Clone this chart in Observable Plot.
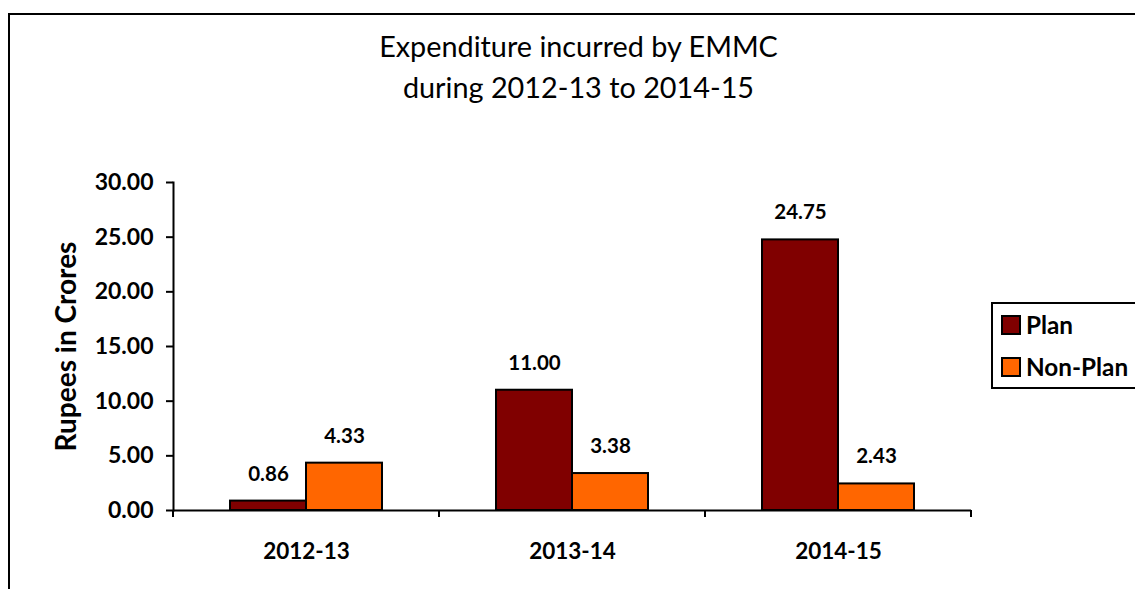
<!DOCTYPE html>
<html><head><meta charset="utf-8">
<script src="https://cdn.jsdelivr.net/npm/d3@7"></script>
<script src="https://cdn.jsdelivr.net/npm/@observablehq/plot@0.6"></script>
<style>
html,body{margin:0;padding:0;background:#fff;}
body{width:1135px;height:589px;overflow:hidden;position:relative;font-family:Lato,"Noto Sans",sans-serif;color:#000;}
#frame{position:absolute;left:8px;top:13px;width:1300px;height:800px;border-left:2px solid #000;border-top:2px solid #000;}
#title{position:absolute;left:0;width:1157px;top:26px;text-align:center;font-size:28.8px;line-height:41px;}
#chart{position:absolute;left:0;top:150px;}
#legend{position:absolute;left:991px;top:302px;width:300px;height:83px;border:2px solid #000;background:#fff;}
.item{position:absolute;left:0;height:20px;font-weight:bold;font-size:24.3px;line-height:20px;white-space:nowrap;}
.sw{position:absolute;left:8px;top:0;width:16px;height:16px;border:2px solid #000;}
.lab{position:absolute;left:33px;top:0;}
g[aria-label="y-axis label"] text{font-size:28px;}
g[aria-label="y-axis tick label"] text{font-size:23px;}
g[aria-label="fx-axis tick label"] text{font-size:22.5px;}
</style>
</head><body>
<div id="frame"></div>
<div id="title">Expenditure incurred by EMMC<br>during 2012-13 to 2014-15</div>
<div id="chart"></div>
<div id="legend"></div>
<script>
const years = ["2012-13", "2013-14", "2014-15"];
const series = ["Plan", "Non-Plan"];
const planValues = [0.86, 11.00, 24.75];
const nonPlanValues = [4.33, 3.38, 2.43];
const seriesColors = ["#800000", "#FF6600"];
const yTicks = [0, 5, 10, 15, 20, 25, 30];
const yLabel = "Rupees in Crores";

const rows = [];
years.forEach((y, i) => {
  rows.push({year: y, series: "Plan", value: planValues[i]});
  rows.push({year: y, series: "Non-Plan", value: nonPlanValues[i]});
});

function boundaryTicks(index, scales, values, dimensions, context) {
  const [x0, x1] = scales.x.range();
  const y0 = scales.y(0);
  const g = d3.create("svg:g").attr("stroke", "#000").attr("stroke-width", 2);
  for (const x of [x0, x1]) g.append("line").attr("x1", x).attr("x2", x).attr("y1", y0).attr("y2", y0 + 7);
  return g.node();
}

const chart = Plot.plot({
  width: 1135, height: 420,
  marginLeft: 173, marginRight: 164, marginTop: 32, marginBottom: 60,
  style: {fontFamily: "Lato, 'Noto Sans', sans-serif", fontWeight: "bold", fontSize: "20px", color: "#000", background: "transparent", overflow: "visible"},
  fx: {domain: years, padding: 0, label: null},
  x: {domain: series, paddingInner: 0, paddingOuter: 0.75, axis: null},
  y: {domain: [0, 30], label: null},
  color: {domain: series, range: seriesColors},
  marks: [
    Plot.barY(rows, {fx: "year", x: "series", y: "value", fill: "series", stroke: "#000", strokeWidth: 2, inset: 0}),
    Plot.text(rows, {fx: "year", x: "series", y: "value", text: d => d.value.toFixed(2), dy: -27, fontWeight: "bold", fontSize: 20.5, fill: "#000"}),
    Plot.ruleY([0], {stroke: "#000", strokeWidth: 2}),
    Plot.frame({anchor: "left", facetAnchor: "left", stroke: "#000", strokeWidth: 2}),
    boundaryTicks,
    Plot.axisY({ticks: yTicks, tickFormat: d => d.toFixed(2), tickSize: 7, tickPadding: 13, strokeWidth: 2,
      label: yLabel, labelAnchor: "center", labelArrow: "none", labelOffset: 117}),
    Plot.axisFx({anchor: "bottom", tickSize: 0, tickPadding: 33, label: null})
  ]
});
document.getElementById("chart").appendChild(chart);

const legend = d3.select("#legend");
series.forEach((s, i) => {
  const item = legend.append("div").attr("class", "item").style("top", (i === 0 ? 11 : 53) + "px");
  item.append("span").attr("class", "sw").style("background", seriesColors[i]);
  item.append("span").attr("class", "lab").text(s);
});
</script>
</body></html>
